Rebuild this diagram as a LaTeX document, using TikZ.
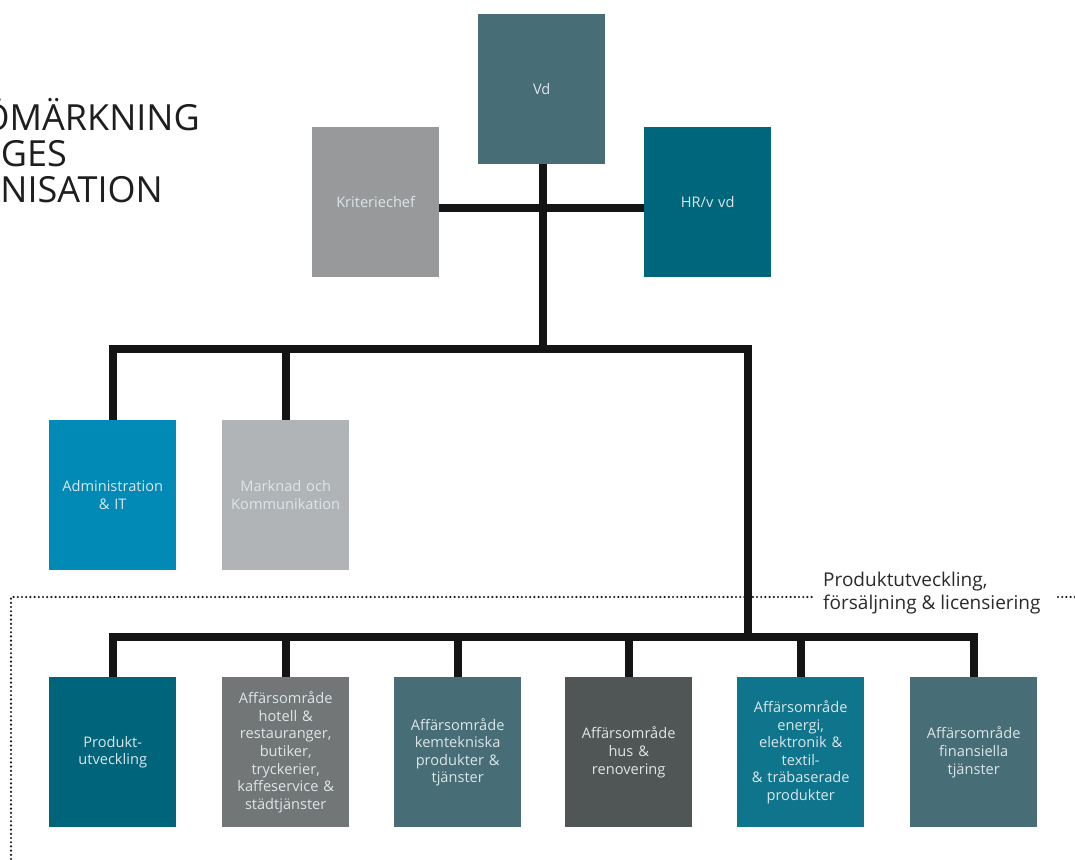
\documentclass[tikz,border=0pt]{standalone}
\usepackage{fontspec}
\setmainfont{Open Sans}
\definecolor{linec}{HTML}{141414}
\definecolor{boxtext}{HTML}{DCE6E8}
\definecolor{titlec}{HTML}{1E1E1E}
\definecolor{labc}{HTML}{2A2A2A}
\definecolor{dotc}{HTML}{1A1A1A}
\definecolor{cVd}{HTML}{476D77}
\definecolor{cKrit}{HTML}{98999B}
\definecolor{cHR}{HTML}{00667C}
\definecolor{cAdm}{HTML}{008AB5}
\definecolor{cMark}{HTML}{B0B4B7}
\definecolor{cProd}{HTML}{00657B}
\definecolor{cHot}{HTML}{737677}
\definecolor{cKem}{HTML}{476D77}
\definecolor{cHus}{HTML}{505655}
\definecolor{cEn}{HTML}{0F758D}
\definecolor{cFin}{HTML}{476D77}
\begin{document}
\begin{tikzpicture}[x=1pt,y=-1pt,
  box/.style={draw=none, minimum width=127pt, minimum height=150pt, anchor=north west,
    inner sep=1pt, align=center, text width=124pt,
    font=\fontsize{14.6}{17.6}\selectfont, text=boxtext},
  conn/.style={line width=8pt, draw=linec, line join=miter},
  dots/.style={line width=2.4pt, dash pattern=on 0pt off 4.2pt, line cap=round, draw=dotc},
  ttl/.style={anchor=base east, inner sep=0pt, font=\fontsize{36}{36}\selectfont, text=titlec},
  lab/.style={anchor=base west, inner sep=0pt, font=\fontsize{19}{23}\selectfont, text=labc}]
\useasboundingbox (0,0) rectangle (1075,859);
\clip (0,0) rectangle (1075,859);

% title
\node[ttl] (t1) at (200,130) {ÖMÄRKNING};
\node[ttl] (t2) at (67,166) {GES};
\node[ttl] (t3) at (163,202) {ANISATION};

% dotted frame
\coordinate (d0) at (11,859);
\coordinate (d1) at (11,597);
\coordinate (d2) at (812,597);
\coordinate (d3) at (1058,597);
\coordinate (d4) at (1076,597);
\draw[dots] (d0) -- (d1) -- (d2);
\draw[dots] (d3) -- (d4);
\node[lab] (l1) at (823,586) {Produktutveckling,};
\node[lab] (l2) at (823,609) {försäljning \& licensiering};

% boxes
\node[box, fill=cVd]   (vd)   at (478,14)  {Vd};
\node[box, fill=cKrit] (krit) at (312,127) {Kriteriechef};
\node[box, fill=cHR]   (hr)   at (644,127) {HR/v vd};
\node[box, fill=cAdm]  (adm)  at (49,420)  {Administration\\\& IT};
\node[box, fill=cMark] (mark) at (222,420) {Marknad och\\Kommunikation};
\node[box, fill=cProd] (prod) at (49,677)  {Produkt-\\utveckling};
\node[box, fill=cHot]  (hot)  at (222,677) {Affärsområde\\hotell \&\\restauranger,\\butiker,\\tryckerier,\\kaffeservice \&\\städtjänster};
\node[box, fill=cKem]  (kem)  at (394,677) {Affärsområde\\kemtekniska\\produkter \&\\tjänster};
\node[box, fill=cHus]  (hus)  at (565,677) {Affärsområde\\hus \&\\renovering};
\node[box, fill=cEn]   (en)   at (737,677) {Affärsområde\\energi,\\elektronik \&\\textil-\\\& träbaserade\\produkter};
\node[box, fill=cFin]  (fin)  at (910,677) {Affärsområde\\finansiella\\tjänster};

% connector points
\coordinate (h1) at (543,208);
\coordinate (j1) at (543,349);
\coordinate (r1) at (748,349);
\coordinate (r2) at (748,637);
\coordinate (bar) at (0,637);

% connectors
\draw[conn] (krit.east |- h1) -- (hr.west |- h1);
\draw[conn] (vd.south -| j1) -- (j1);
\draw[conn] (adm.north) -- (adm.north |- r1) -- (r1) -- (r2);
\draw[conn] (mark.north) -- (mark.north |- r1);
\draw[conn] (prod.north) -- (prod.north |- bar) -- (fin.north |- bar) -- (fin.north);
\draw[conn] (hot.north) -- (hot.north |- bar);
\draw[conn] (kem.north) -- (kem.north |- bar);
\draw[conn] (hus.north) -- (hus.north |- bar);
\draw[conn] (en.north) -- (en.north |- bar);
\end{tikzpicture}
\end{document}
